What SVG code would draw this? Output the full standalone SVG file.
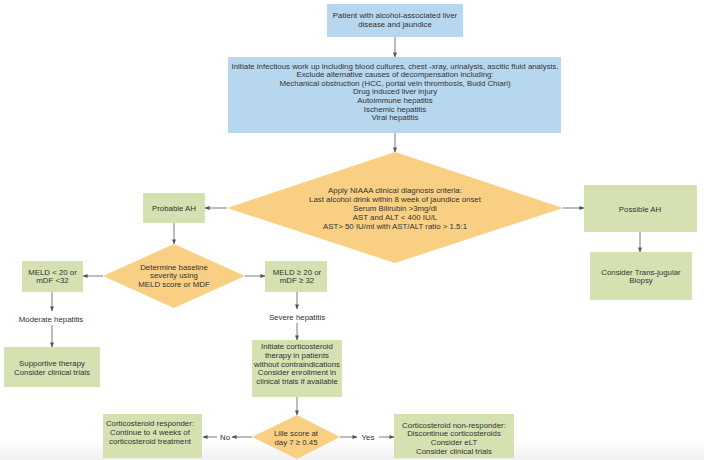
<svg xmlns="http://www.w3.org/2000/svg" width="704" height="460" viewBox="0 0 704 460">
<style>
text{font-family:"Liberation Sans",Arial,sans-serif;font-size:7.85px;fill:#333;text-anchor:middle}
.blue{fill:#b7d7ee}
.green{fill:#d6e1b1}
.orange{fill:#f9d083}
.c{stroke:#6b6b6b;stroke-width:0.9;fill:none}
</style>
<defs>
<marker id="ah" viewBox="0 0 6 6" refX="5.5" refY="3" markerWidth="5" markerHeight="5" orient="auto" markerUnits="userSpaceOnUse">
<path d="M0,0.6 L6,3 L0,5.4 Z" fill="#555"/>
</marker>
<linearGradient id="bg" x1="0" y1="0" x2="0" y2="1">
<stop offset="0" stop-color="#ffffff"/>
<stop offset="1" stop-color="#f0f0f0"/>
</linearGradient>
</defs>
<rect width="704" height="460" fill="#fff"/>
<rect x="0" y="440" width="704" height="20" fill="url(#bg)"/>

<g id="connectors">
<line class="c" x1="395" y1="37" x2="395" y2="57" marker-end="url(#ah)"/>
<line class="c" x1="395" y1="133" x2="395" y2="152" marker-end="url(#ah)"/>
<line class="c" x1="227" y1="208" x2="205" y2="208" marker-end="url(#ah)"/>
<line class="c" x1="563" y1="208" x2="584" y2="208" marker-end="url(#ah)"/>
<line class="c" x1="640" y1="232" x2="640" y2="252" marker-end="url(#ah)"/>
<line class="c" x1="174" y1="223" x2="174" y2="244" marker-end="url(#ah)"/>
<line class="c" x1="103" y1="276" x2="83" y2="276" marker-end="url(#ah)"/>
<line class="c" x1="245" y1="276" x2="265" y2="276" marker-end="url(#ah)"/>
<line class="c" x1="52" y1="292" x2="52" y2="311" marker-end="url(#ah)"/>
<line class="c" x1="52" y1="325" x2="52" y2="347" marker-end="url(#ah)"/>
<line class="c" x1="297" y1="292" x2="297" y2="309" marker-end="url(#ah)"/>
<line class="c" x1="297" y1="323" x2="297" y2="340" marker-end="url(#ah)"/>
<line class="c" x1="297" y1="397" x2="297" y2="415" marker-end="url(#ah)"/>
<line class="c" x1="252" y1="437" x2="232" y2="437" marker-end="url(#ah)"/>
<line class="c" x1="217" y1="437" x2="203" y2="437" marker-end="url(#ah)"/>
<text x="225" y="439.7">No</text>
<line class="c" x1="340" y1="437" x2="357" y2="437" marker-end="url(#ah)"/>
<line class="c" x1="379" y1="437" x2="394" y2="437" marker-end="url(#ah)"/>
<text x="368" y="439.7">Yes</text>
</g>

<g id="patient">
<rect class="blue" x="327" y="4" width="136" height="33"/>
<text x="395" y="17.7">Patient with alcohol-associated liver</text>
<text x="395" y="26.7">disease and jaundice</text>
</g>

<g id="workup">
<rect class="blue" x="228" y="57" width="333" height="76"/>
<text x="395" y="68.5">Initiate infectious work up including blood cultures, chest -xray, urinalysis, ascitic fluid analysis.</text>
<text x="395" y="77.1">Exclude alternative causes of decompensation including:</text>
<text x="395" y="85.7">Mechanical obstruction (HCC, portal vein thrombosis, Budd Chiari)</text>
<text x="395" y="94.3">Drug induced liver injury</text>
<text x="395" y="102.9">Autoimmune hepatitis</text>
<text x="395" y="111.5">Ischemic hepatitis</text>
<text x="395" y="120.1">Viral hepatitis</text>
</g>

<g id="niaaa">
<polygon class="orange" points="395,152 563,208 395,263 227,208"/>
<text x="395" y="193.3">Apply NIAAA clinical diagnosis criteria:</text>
<text x="395" y="202.1">Last alcohol drink within 8 week of jaundice onset</text>
<text x="395" y="210.9">Serum Bilirubin &gt;3mg/dl</text>
<text x="395" y="219.7">AST and ALT &lt; 400 IU/L</text>
<text x="395" y="228.5">AST&gt; 50 IU/ml with AST/ALT ratio &gt; 1.5:1</text>
</g>

<g id="probable">
<rect class="green" x="143" y="193" width="62" height="30"/>
<text x="174" y="210.7">Probable AH</text>
</g>

<g id="possible">
<rect class="green" x="584" y="185" width="113" height="47"/>
<text x="640" y="211.7">Possible AH</text>
</g>

<g id="biopsy">
<rect class="green" x="590" y="252" width="102" height="48"/>
<text x="641" y="274.7">Consider Trans-jugular</text>
<text x="641" y="283.3">Biopsy</text>
</g>

<g id="severity">
<polygon class="orange" points="174,244 245,276 174,308 103,276"/>
<text x="174" y="269.7">Determine baseline</text>
<text x="174" y="278.3">severity using</text>
<text x="174" y="286.9">MELD score or MDF</text>
</g>

<g id="meld-low">
<rect class="green" x="22" y="261" width="61" height="31"/>
<text x="52.5" y="274.7">MELD &lt; 20 or</text>
<text x="52.5" y="283.3">mDF &lt;32</text>
</g>

<g id="moderate">
<text x="51" y="321.7">Moderate hepatitis</text>
</g>

<g id="supportive">
<rect class="green" x="4" y="347" width="96" height="40"/>
<text x="52" y="366">Supportive therapy</text>
<text x="52" y="375">Consider clinical trials</text>
</g>

<g id="meld-high">
<rect class="green" x="265" y="261" width="62" height="31"/>
<text x="297" y="274.7">MELD ≥ 20 or</text>
<text x="297" y="283.3">mDF ≥ 32</text>
</g>

<g id="severe">
<text x="297" y="319.7">Severe hepatitis</text>
</g>

<g id="initiate">
<rect class="green" x="252" y="340" width="90" height="57"/>
<text x="297" y="348.7">Initiate corticosteroid</text>
<text x="297" y="357.6">therapy in patients</text>
<text x="297" y="366.5">without contraindications</text>
<text x="297" y="375.4">Consider enrollment in</text>
<text x="297" y="384.3">clinical trials if available</text>
</g>

<g id="lille">
<polygon class="orange" points="297,415 340,437 297,459 252,437"/>
<text x="296" y="435.7">Lille score at</text>
<text x="296" y="444.5">day 7 ≥ 0.45</text>
</g>

<g id="responder">
<rect class="green" x="103" y="414" width="99" height="44"/>
<text x="150" y="425.7">Corticosteroid responder:</text>
<text x="150" y="434.6">Continue to 4 weeks of</text>
<text x="150" y="443.5">corticosteroid treatment</text>
</g>

<g id="nonresponder">
<rect class="green" x="394" y="414" width="120" height="44"/>
<text x="454" y="427.7">Corticosteroid non-responder:</text>
<text x="454" y="436.4">Discontinue corticosteroids</text>
<text x="454" y="445.1">Consider eLT</text>
<text x="454" y="453.8">Consider clinical trials</text>
</g>
</svg>
